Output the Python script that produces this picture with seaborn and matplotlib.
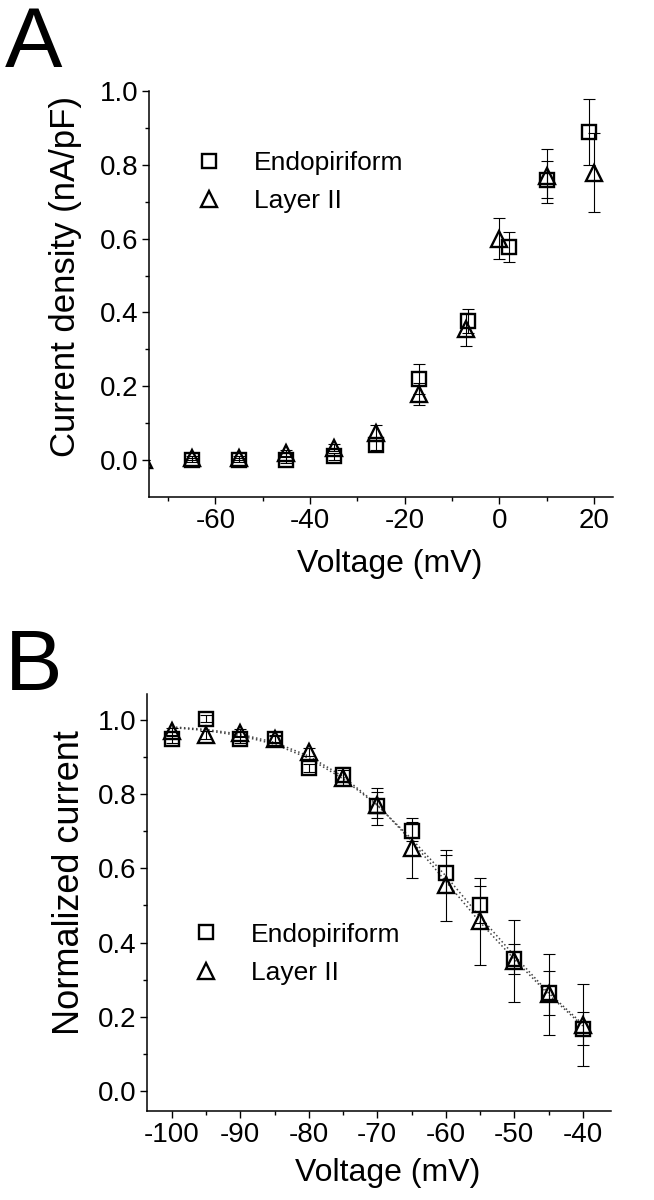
from matplotlib import pyplot as plt
import pandas as pd
import seaborn as sns

# panel A : current density vs voltage
volt_endo_a = [-65, -55, -45, -35, -26, -17, -6.5, 2, 10, 19]
dens_endo = [0.0, 0.0, 0.0, 0.01, 0.04, 0.22, 0.377, 0.578, 0.76, 0.89]
err_endo_a = [0.005, 0.005, 0.008, 0.01, 0.012, 0.04, 0.033, 0.04, 0.05, 0.09]
volt_layer_a = [-75, -65, -55, -45, -35, -26, -17, -7, 0, 10, 20]
dens_layer = [0.0, 0.006, 0.006, 0.02, 0.033, 0.074, 0.178, 0.354, 0.60, 0.77, 0.779]
err_layer_a = [0.0, 0.005, 0.005, 0.008, 0.01, 0.02, 0.03, 0.045, 0.055, 0.073, 0.107]

# panel B : normalized current vs prepulse voltage
volt_b = [-100, -95, -90, -85, -80, -75, -70, -65, -60, -55, -50, -45, -40]
norm_endo = [0.948, 1.004, 0.948, 0.948, 0.871, 0.853, 0.768, 0.70, 0.587, 0.502, 0.355, 0.264, 0.168]
err_endo_b = [0.01, 0.01, 0.01, 0.01, 0.01, 0.02, 0.05, 0.025, 0.05, 0.05, 0.04, 0.06, 0.045]
norm_layer = [0.97, 0.96, 0.965, 0.95, 0.914, 0.845, 0.77, 0.655, 0.554, 0.457, 0.35, 0.26, 0.178]
err_layer_b = [0.01, 0.01, 0.01, 0.01, 0.01, 0.02, 0.035, 0.08, 0.097, 0.117, 0.11, 0.11, 0.11]
# dotted fit lines
fit_endo = [0.98, 0.972, 0.958, 0.935, 0.897, 0.842, 0.77, 0.68, 0.58, 0.47, 0.365, 0.265, 0.18]
fit_layer = [0.982, 0.975, 0.962, 0.94, 0.903, 0.848, 0.772, 0.674, 0.565, 0.455, 0.355, 0.26, 0.175]

labels = ['Endopiriform', 'Layer II']

sns.set_style('ticks')
plt.rcParams['font.family'] = ['Liberation Sans', 'DejaVu Sans']
plt.rcParams.update({
    'axes.linewidth': 1.1, 'axes.edgecolor': 'black', 'axes.labelcolor': 'black',
    'text.color': 'black', 'xtick.color': 'black', 'ytick.color': 'black',
    'axes.unicode_minus': False,
})

fig = plt.figure(figsize=(6.54, 12), dpi=100)
axA = fig.add_axes([0.228, 0.586, 0.709, 0.338])
axB = fig.add_axes([0.225, 0.074, 0.709, 0.3475])

mk = dict(linestyle='', mfc='none', mec='black', color='black', mew=1.7)


def draw_series(ax, x, y, err, marker, ms, label):
    df = pd.DataFrame({'x': x, 'y': y, 'err': err})
    ax.errorbar(df['x'], df['y'], yerr=df['err'], fmt='none', ecolor='black',
                elinewidth=0.8, capsize=4, capthick=0.8, zorder=2)
    sns.lineplot(x='x', y='y', data=df, ax=ax, marker=marker, ms=ms,
                 estimator=None, label=label, zorder=3, **mk)


# ---- A ----
draw_series(axA, volt_layer_a, dens_layer, err_layer_a, '^', 12, labels[1])
draw_series(axA, volt_endo_a, dens_endo, err_endo_a, 's', 9.5, labels[0])
axA.set_xlim(-74, 24)
axA.set_ylim(-0.1, 1.0)
axA.set_xticks([-60, -40, -20, 0, 20])
axA.set_xticks(range(-70, 21, 20), minor=True)
axA.set_yticks([0.0, 0.2, 0.4, 0.6, 0.8, 1.0])
axA.set_yticks([0.1, 0.3, 0.5, 0.7, 0.9], minor=True)
axA.set_yticklabels(['0.0', '0.2', '0.4', '0.6', '0.8', '1.0'])
axA.set_xlabel('Voltage (mV)', fontsize=23)
axA.set_ylabel('Current density (nA/pF)', fontsize=25)
axA.xaxis.set_label_coords(0.519, -0.128)
axA.yaxis.set_label_coords(-0.144, 0.542)

# ---- B ----
sns.lineplot(x=volt_b, y=fit_endo, ax=axB, color='#444444', lw=1.1, linestyle=':', zorder=1)
sns.lineplot(x=volt_b, y=fit_layer, ax=axB, color='#444444', lw=1.1, linestyle=':', zorder=1)
draw_series(axB, volt_b, norm_layer, err_layer_b, '^', 12, labels[1])
draw_series(axB, volt_b, norm_endo, err_endo_b, 's', 9.5, labels[0])
axB.set_xlim(-103.6, -35.9)
axB.set_ylim(-0.055, 1.07)
axB.set_xticks(range(-100, -39, 10))
axB.set_xticks(range(-95, -39, 10), minor=True)
axB.set_yticks([0.0, 0.2, 0.4, 0.6, 0.8, 1.0])
axB.set_yticks([0.1, 0.3, 0.5, 0.7, 0.9], minor=True)
axB.set_yticklabels(['0.0', '0.2', '0.4', '0.6', '0.8', '1.0'])
axB.set_xlabel('Voltage (mV)', fontsize=23)
axB.set_ylabel('Normalized current', fontsize=26)
axB.xaxis.set_label_coords(0.519, -0.113)
axB.yaxis.set_label_coords(-0.129, 0.549)

for ax, anchor in [(axA, (0.101, 0.853)), (axB, (0.099, 0.452))]:
    sns.despine(ax=ax)
    ax.tick_params(which='major', direction='out', length=5, width=1.0, labelsize=20, pad=3)
    ax.tick_params(which='minor', direction='out', length=3, width=1.0)
    h, l = ax.get_legend_handles_labels()
    order = [l.index(labels[0]), l.index(labels[1])]
    ax.legend([h[i] for i in order], [l[i] for i in order], loc='upper left',
              bbox_to_anchor=anchor, frameon=False, fontsize=19, handlelength=1.0,
              handletextpad=1.2, labelspacing=0.55, borderpad=0, borderaxespad=0)

fig.text(5 / 654, 1 - 67 / 1200, 'A', fontsize=62, va='baseline', ha='left')
fig.text(5 / 654, 1 - 690 / 1200, 'B', fontsize=62, va='baseline', ha='left')

plt.savefig('out.png', dpi=100)
